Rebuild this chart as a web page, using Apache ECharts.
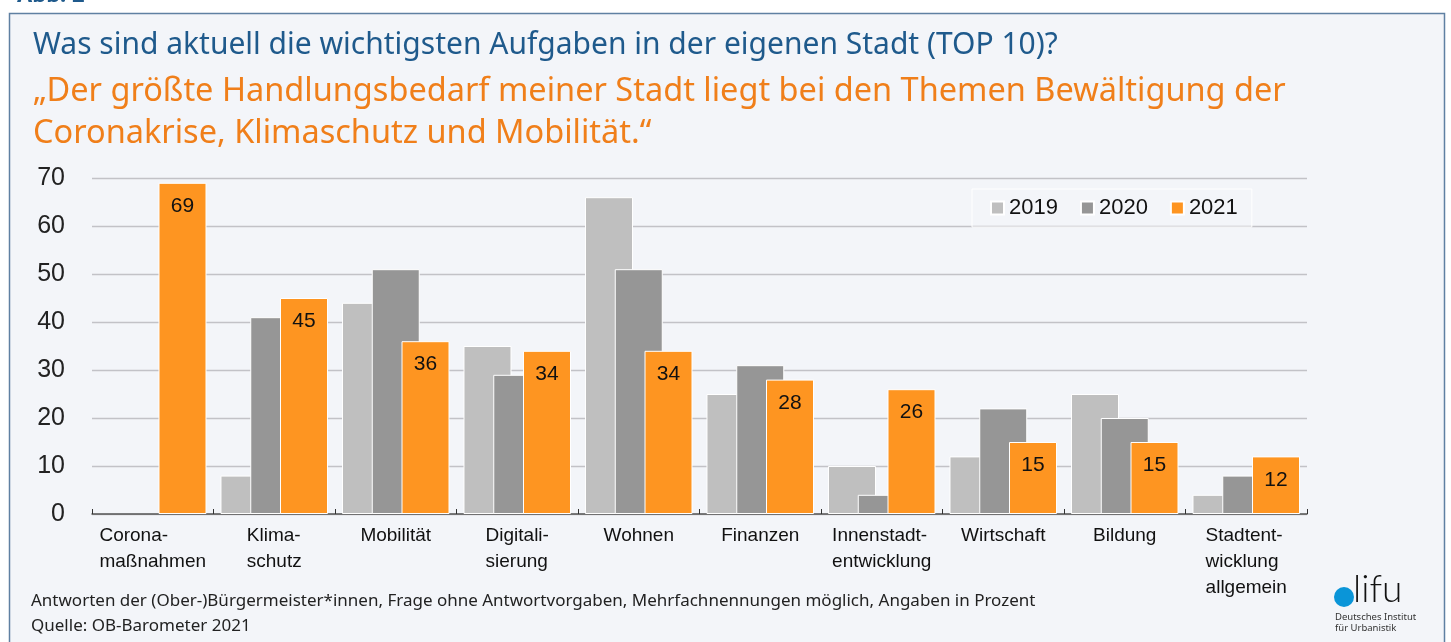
<!DOCTYPE html>
<html>
<head>
<meta charset="utf-8">
<script src="https://cdn.jsdelivr.net/npm/echarts@6/dist/echarts.min.js"></script>
<style>
  html, body { margin: 0; padding: 0; background: #fff; }
  #chart { width: 1451px; height: 642px; }
</style>
</head>
<body>
<div id="chart"></div>
<script>
var categories = [
    'Corona-\nmaßnahmen', 'Klima-\nschutz', 'Mobilität', 'Digitali-\nsierung', 'Wohnen',
    'Finanzen', 'Innenstadt-\nentwicklung', 'Wirtschaft', 'Bildung', 'Stadtent-\nwicklung\nallgemein'
];
var years = ['2019', '2020', '2021'];
var values2019 = [null, 8, 44, 35, 66, 25, 10, 12, 25, 4];
var values2020 = [null, 41, 51, 29, 51, 31, 4, 22, 20, 8];
var values2021 = [69, 45, 36, 34, 34, 28, 26, 15, 15, 12];
var yTicks = [0, 10, 20, 30, 40, 50, 60, 70];

var titleText = 'Was sind aktuell die wichtigsten Aufgaben in der eigenen Stadt (TOP 10)?';
var subText = '\u201EDer größte Handlungsbedarf meiner Stadt liegt bei den Themen Bewältigung der\nCoronakrise, Klimaschutz und Mobilität.\u201C';
var noteText = 'Antworten der (Ober-)Bürgermeister*innen, Frage ohne Antwortvorgaben, Mehrfachnennungen möglich, Angaben in Prozent';
var sourceText = 'Quelle: OB-Barometer 2021';

var colors = ['#bfbfbf', '#969696', '#fe9521'];
var textFont = '"Noto Sans", sans-serif';
var chartFont = '"Liberation Sans", Arial, sans-serif';

var myChart = echarts.init(document.getElementById('chart'));

function barSeries(name, data, color, withLabel) {
    return {
        name: name,
        type: 'bar',
        data: data,
        barWidth: 48,
        barGap: '-38%',
        itemStyle: { color: color, borderColor: '#ffffff', borderWidth: 1 },
        label: {
            show: withLabel,
            position: 'insideTop',
            distance: 13,
            fontSize: 21,
            color: '#111',
            fontFamily: chartFont
        }
    };
}

var option = {
    backgroundColor: '#ffffff',
    animation: false,
    graphic: [
        {
            type: 'rect', z: -10,
            shape: { x: 9.5, y: 13.5, width: 1435, height: 700 },
            style: { fill: '#f3f5f9', stroke: '#5f80a2', lineWidth: 1.5 }
        },
        {
            type: 'text', z: -10, left: 17, top: -15,
            style: { text: 'Abb. 2', fill: '#1f5a8c', font: 'bold 22px ' + textFont }
        },
        {
            type: 'text', left: 31, top: 593,
            style: { text: noteText, fill: '#222', font: '17px ' + textFont }
        },
        {
            type: 'text', left: 31, top: 618,
            style: { text: sourceText, fill: '#222', font: '17px ' + textFont }
        },
        {
            type: 'circle',
            shape: { cx: 1344, cy: 597, r: 10 },
            style: { fill: '#0a95d8' }
        },
        {
            type: 'text', left: 1353, top: 572,
            style: { text: 'lifu', fill: '#111', font: '300 37px Lato, ' + textFont }
        },
        {
            type: 'text', left: 1335, top: 612,
            style: { text: 'Deutsches Institut\nfür Urbanistik', fill: '#333', font: '9.5px ' + textFont, lineHeight: 11 }
        }
    ],
    title: [
        {
            text: titleText,
            left: 33, top: 27, padding: 0,
            textStyle: { color: '#1f5a8c', fontSize: 30, fontWeight: 'normal', fontFamily: textFont, lineHeight: 36 }
        },
        {
            text: subText,
            left: 33, top: 71, padding: 0,
            textStyle: { color: '#f07f1a', fontSize: 32.5, fontWeight: 'normal', fontFamily: textFont, lineHeight: 42 }
        }
    ],
    legend: {
        data: years,
        left: 972, top: 189,
        padding: [8, 14, 8, 18],
        borderColor: '#ffffff',
        borderWidth: 1,
        itemWidth: 13,
        itemHeight: 13,
        itemGap: 22,
        icon: 'rect',
        textStyle: { fontSize: 22, color: '#111', fontFamily: chartFont }
    },
    grid: { left: 92, right: 144, top: 178, bottom: 128, containLabel: false },
    xAxis: {
        type: 'category',
        data: categories,
        axisLine: { lineStyle: { color: '#555', width: 1.5 } },
        axisTick: { show: true, inside: true, length: 5, lineStyle: { color: '#333' } },
        axisLabel: {
            interval: 0,
            margin: 9,
            fontSize: 19,
            lineHeight: 26,
            color: '#111',
            fontFamily: chartFont,
            formatter: function(v) {
                return v.split('\n').map(function(s) { return '{l|' + s + '}'; }).join('\n');
            },
            rich: { l: { align: 'left', fontSize: 19, lineHeight: 26, color: '#111', fontFamily: chartFont } }
        }
    },
    yAxis: {
        type: 'value',
        min: yTicks[0],
        max: yTicks[yTicks.length - 1],
        interval: 10,
        axisLine: { show: false },
        axisTick: { show: false },
        splitLine: { lineStyle: { color: '#c2c2c7', width: 1.3 } },
        axisLabel: { margin: 27, fontSize: 25, color: '#222', fontFamily: chartFont }
    },
    color: colors,
    series: [
        barSeries(years[0], values2019, colors[0], false),
        barSeries(years[1], values2020, colors[1], false),
        barSeries(years[2], values2021, colors[2], true)
    ]
};

myChart.setOption(option);
</script>
</body>
</html>
